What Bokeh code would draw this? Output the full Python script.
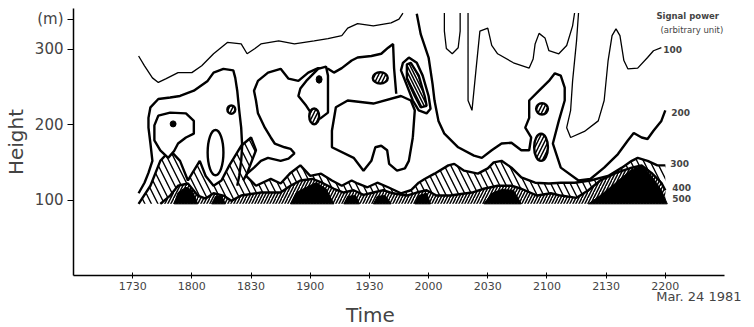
from bokeh.plotting import figure
from bokeh.models import Range1d, Label, FixedTicker, LinearAxis
from bokeh.embed import file_html
from bokeh.resources import INLINE

# x = minutes after 17:00 (Mar. 24 1981), y = height (m)
tick_minutes = [30, 60, 90, 120, 150, 180, 210, 240, 270, 300]
tick_labels = ["1730", "1800", "1830", "1900", "1930", "2000", "2030", "2100", "2130", "2200"]
height_ticks = [100, 200, 300]
unit_tick = 340
date_text = "Mar. 24 1981"
level_labels = ["100", "200", "300", "400", "500"]
level_label_t = [299, 303, 302.5, 303.5, 303.5]
level_label_h = [300, 216, 148, 117, 102]
base_h = 95

# ---- 100 contour (thin) ----
c100a_t = [33, 36, 40, 43, 47, 53, 60, 65, 71, 78, 85, 88, 92, 95, 104, 112, 122, 129, 136, 139, 144, 152, 161, 165, 167]
c100a_h = [291, 278, 262, 256, 261, 269, 269, 278, 294, 309, 307, 294, 301, 307, 311, 307, 311, 314, 318, 328, 334, 331, 335, 340, 348]
c100b_t = [188, 188, 189, 192, 195, 196, 196]
c100b_h = [348, 324, 301, 294, 302, 324, 348]
c100c_t = [200, 200, 200, 202, 204, 206, 210, 212, 215, 223, 231, 233, 234, 236, 239, 241, 246, 250, 253, 254]
c100c_h = [348, 285, 232, 219, 272, 324, 328, 305, 294, 282, 275, 287, 307, 321, 315, 298, 294, 305, 331, 348]
c100d_t = [256, 255, 253, 252, 250, 252, 259, 266, 269, 271, 273, 275, 277, 279, 281, 286, 291, 294, 298]
c100d_h = [348, 311, 258, 219, 196, 183, 191, 205, 232, 285, 318, 327, 318, 285, 274, 275, 289, 298, 302]

# ---- 200 contour (thick) ----
c200a_t = [33, 36, 38, 40, 39, 38, 38, 39, 43, 49, 54, 61, 68, 71, 76, 81, 82, 83, 84, 85, 85.5, 85, 84, 83]
c200a_h = [109, 123, 136, 152, 175, 196, 209, 223, 234, 236, 238, 245, 258, 269, 274, 272, 262, 245, 219, 196, 172, 152, 132, 119]
c200b_t = [86, 88, 91.5, 95, 98.6, 105, 109, 112, 110, 107, 102, 100, 97, 93.5, 92.5, 91.5, 93.5, 98.6, 105, 109, 114, 119, 124, 129, 132, 136, 141, 144, 151, 156, 159.5, 162, 162.5, 163.6]
c200b_h = [126, 135, 143, 152, 156, 152, 155, 162, 168, 170, 175, 183, 196, 215, 232, 245, 258, 269, 274, 261, 258, 269, 275, 274, 269, 275, 285, 289, 291, 294, 302, 307, 275, 241]
c200loop_t = [172, 173, 171, 166, 152, 139, 133, 131, 131, 142, 147, 151, 153, 156, 159, 160, 164, 168, 170, 172]
c200loop_h = [183, 219, 232, 238, 228, 232, 223, 192, 170, 156, 139, 152, 170, 172, 166, 148, 139, 142, 152, 183]
c200c_t = [174, 176, 180, 182, 183, 185, 188, 195, 203, 207, 212, 217, 222, 227, 231, 232, 229, 231, 231, 236, 241, 244, 247, 249, 249, 246, 243, 247, 256, 262, 269, 276, 281, 284, 288, 291, 294, 298, 300]
c200c_h = [347, 320, 289, 254, 232, 205, 188, 170, 159, 156, 166, 175, 176, 166, 166, 183, 196, 209, 232, 245, 258, 268, 265, 249, 232, 205, 175, 143, 126, 128, 143, 161, 179, 189, 183, 181, 192, 205, 219]

# ---- 300 contour (top of hatched band) ----
c300_t = [33, 39, 44, 49, 54, 58, 64, 67, 71, 75, 79, 85, 90, 92.5, 87.5, 92.5, 100, 105, 110, 115, 120, 125.5, 131, 136, 141, 144, 149, 154, 159.5, 166, 171, 175, 178, 183, 190, 193, 198, 205, 210, 213, 217, 222, 227, 234, 241, 247, 254, 262, 271, 278, 283, 286, 291, 296, 300]
c300_h = [95, 119, 152, 166, 152, 126, 152, 132, 119, 126, 146, 172, 183, 166, 132, 119, 128, 122, 136, 146, 132, 135, 126, 119, 126, 122, 117, 123, 117, 109, 113, 123, 128, 135, 146, 148, 139, 135, 142, 150, 152, 143, 130, 123, 122, 123, 123, 126, 132, 143, 152, 156, 152, 146, 146]
hook_t = [41, 43, 49, 57, 61, 61, 57, 53, 51, 48, 44, 41, 41]
hook_h = [199, 212, 216, 215, 205, 188, 183, 175, 165, 156, 166, 179, 199]
tri_t = [115, 118, 124, 128, 129, 129, 129, 125, 122, 118, 114, 115]
tri_h = [248, 258, 274, 277, 265, 238, 216, 208, 209, 225, 238, 248]
ell_out_t = [167, 170, 174, 177, 180, 181, 179, 175, 172, 169, 166, 167]
ell_out_h = [282, 289, 282, 265, 238, 221, 215, 219, 232, 252, 272, 282]
ell_in_t = [169, 171, 175, 178, 179, 176, 173, 169, 169]
ell_in_h = [280, 282, 265, 238, 225, 223, 238, 261, 280]

# ---- 400 contour ----
c400_t = [44, 49, 53, 58, 63, 67, 71, 76, 80, 85, 95, 105, 110, 115, 121, 126, 132, 137, 142, 147, 152, 157, 162, 169, 174, 179, 184, 191, 202, 208, 215, 222, 227, 235, 242, 247, 255, 261, 267, 275, 283, 288, 293, 298, 300]
c400_h = [95, 106, 119, 122, 106, 102, 109, 106, 99, 106, 110, 110, 119, 126, 128, 123, 115, 110, 113, 107, 110, 113, 109, 106, 110, 113, 106, 106, 110, 115, 119, 119, 115, 106, 109, 106, 103, 113, 126, 136, 143, 146, 136, 123, 113]

# ---- 500 cores (solid) ----
b500_t = [[51, 53, 57, 60, 63], [70, 72, 75, 77], [110, 113, 118, 123, 128, 132], [137, 139, 143, 145],
          [152, 154, 158, 161], [173, 175, 179, 181], [208, 212, 217, 223, 227], [261, 267, 275, 282, 288, 293, 298, 301]]
b500_h = [[95, 110, 117, 113, 95], [95, 105, 106, 95], [95, 110, 117, 123, 115, 95], [95, 105, 106, 95],
          [95, 105, 106, 95], [95, 106, 109, 95], [95, 109, 114, 113, 95], [95, 106, 123, 139, 146, 132, 113, 95]]

# small closed cells: centre time, centre height, width (min), height (m)
oval_t = [80, 155.5, 237.5, 237, 122]
oval_h = [220, 262, 221, 170, 211]
oval_w = [4, 7.6, 6, 7, 5]
oval_hh = [11, 15, 15, 36, 21]
tall_t, tall_h, tall_w, tall_hh = [72], [163], [8], [60]
dark_t = [50.5, 124.5]
dark_h = [201, 260]
dark_w = [3, 3]
dark_hh = [8, 10]

p = figure(frame_width=651, frame_height=267, x_range=Range1d(0, 330), y_range=Range1d(0, 354),
           output_backend="svg", toolbar_location=None,
           min_border_left=65, min_border_right=21, min_border_top=8, min_border_bottom=0)
p.outline_line_color = None
p.grid.visible = False
p.background_fill_color = "white"

thin, thick = 1.3, 2.4

# hatched band between 300 and 400
p.patch(c300_t + [300, 33], c300_h + [base_h, base_h], fill_color="white", line_color=None,
        hatch_pattern="\\", hatch_scale=13, hatch_weight=1.4, hatch_color="black")
p.patch(c400_t + [300, 44], c400_h + [base_h, base_h], fill_color="white", line_color=None,
        hatch_pattern="/", hatch_scale=6, hatch_weight=1.5, hatch_color="black")
p.patches(b500_t, b500_h, fill_color="black", line_color="black", line_width=1)

p.line(c300_t, c300_h, line_color="black", line_width=thick)
p.line(c400_t, c400_h, line_color="black", line_width=thick)

for xs, ys in [(c100a_t, c100a_h), (c100b_t, c100b_h), (c100c_t, c100c_h), (c100d_t, c100d_h)]:
    p.line(xs, ys, line_color="black", line_width=thin)
for xs, ys in [(c200a_t, c200a_h), (c200b_t, c200b_h), (c200loop_t, c200loop_h), (c200c_t, c200c_h)]:
    p.line(xs, ys, line_color="black", line_width=thick)

p.patch(hook_t, hook_h, fill_color="white", line_color="black", line_width=thick)
p.patch(tri_t, tri_h, fill_color="white", line_color="black", line_width=thick)
p.patch(ell_out_t, ell_out_h, fill_color="white", line_color="black", line_width=thick)
p.patch(ell_in_t, ell_in_h, fill_color="white", line_color="black", line_width=thick,
        hatch_pattern="\\", hatch_scale=6, hatch_weight=1.5, hatch_color="black")
p.ellipse(oval_t, oval_h, width=oval_w, height=oval_hh, fill_color="white", line_color="black",
          line_width=thick, hatch_pattern="/", hatch_scale=7, hatch_weight=1.5, hatch_color="black")
p.ellipse(tall_t, tall_h, width=tall_w, height=tall_hh, fill_color="white", line_color="black", line_width=thick)
p.ellipse(dark_t, dark_h, width=dark_w, height=dark_hh, fill_color="black", line_color="black", line_width=1)

# x axis with time ticks
xa = p.xaxis[0]
xa.ticker = FixedTicker(ticks=tick_minutes)
xa.major_label_overrides = {m: s for m, s in zip(tick_minutes, tick_labels)}
xa.minor_tick_line_color = None
xa.major_tick_in = 3
xa.major_tick_out = 3
xa.major_label_standoff = 3
xa.major_label_text_font = "DejaVu Sans"
xa.major_label_text_font_size = "11px"
xa.axis_line_width = 1.5

# date line under the tick labels
date_pos = 317
xb = LinearAxis(ticker=FixedTicker(ticks=[date_pos]), major_label_overrides={date_pos: date_text},
                major_tick_in=0, major_tick_out=0, major_tick_line_color=None, minor_tick_line_color=None,
                axis_line_color=None, major_label_standoff=-4,
                major_label_text_font="DejaVu Sans", major_label_text_font_size="13px")
p.add_layout(xb, "below")

# axis title "Time"
time_pos = 150.5
xc = LinearAxis(ticker=FixedTicker(ticks=[time_pos]), major_label_overrides={time_pos: "Time"},
                major_tick_in=0, major_tick_out=0, major_tick_line_color=None, minor_tick_line_color=None,
                axis_line_color=None, major_label_standoff=-4,
                major_label_text_font="DejaVu Sans", major_label_text_font_size="20px")
p.add_layout(xc, "below")

p.yaxis.ticker = FixedTicker(ticks=height_ticks + [unit_tick])
p.yaxis.major_label_overrides = {unit_tick: "(m)"}
p.yaxis.minor_tick_line_color = None
p.yaxis.major_tick_in = 0
p.yaxis.major_tick_out = 6
p.yaxis.major_label_standoff = 4
p.yaxis.major_label_text_font = "DejaVu Sans"
p.yaxis.major_label_text_font_size = "15px"
p.yaxis.axis_label = "Height"
p.yaxis.axis_label_text_font = "DejaVu Sans"
p.yaxis.axis_label_text_font_style = "normal"
p.yaxis.axis_label_text_font_size = "20px"
p.yaxis.axis_label_standoff = 4
p.yaxis.axis_line_width = 1.5

for txt, tx, hy in zip(level_labels, level_label_t, level_label_h):
    p.add_layout(Label(x=tx, y=hy, text=txt, text_font="DejaVu Sans", text_font_size="9px",
                       text_font_style="bold", text_baseline="middle"))
p.add_layout(Label(x=295.5, y=344, text="Signal power", text_font="DejaVu Sans", text_font_size="8.5px",
                   text_font_style="bold", text_baseline="middle"))
p.add_layout(Label(x=297.5, y=326, text="(arbitrary unit)", text_font="DejaVu Sans", text_font_size="8.5px",
                   text_baseline="middle"))

open("out.html", "w").write(file_html(p, INLINE))
